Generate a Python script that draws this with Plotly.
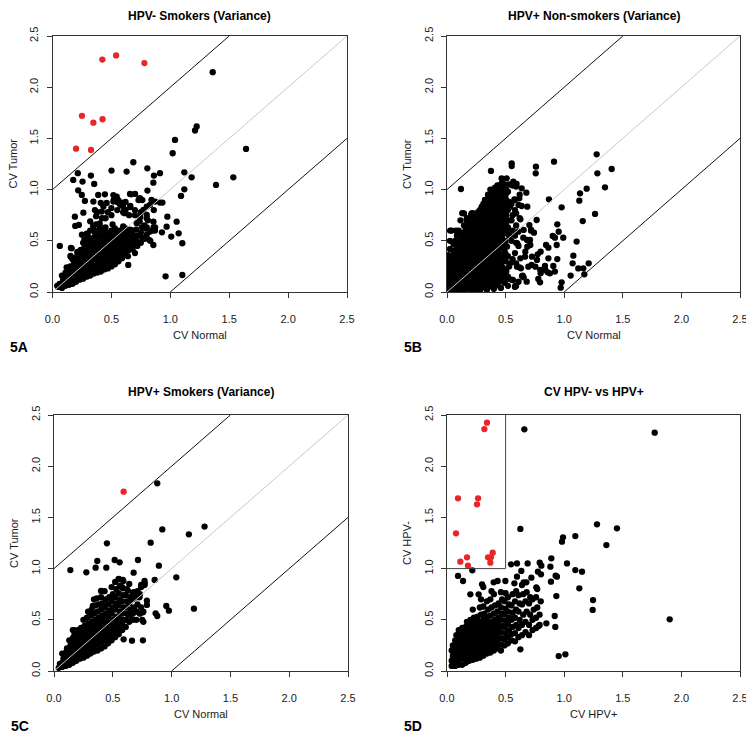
import plotly.graph_objects as go

# ---------------- data ----------------
panel_titles = ["HPV- Smokers (Variance)", "HPV+ Non-smokers (Variance)",
                "HPV+ Smokers (Variance)", "CV HPV- vs HPV+"]
x_titles = ["CV Normal", "CV Normal", "CV Normal", "CV HPV+"]
y_titles = ["CV Tumor", "CV Tumor", "CV Tumor", "CV HPV-"]
panel_tags = ["5A", "5B", "5C", "5D"]
tick_vals = [0.0, 0.5, 1.0, 1.5, 2.0, 2.5]
tick_text = ["0.0", "0.5", "1.0", "1.5", "2.0", "2.5"]

a_black = [
    (0.05,0.05),(0.06,0.08),(0.04,0.06),
    (0.08,0.04),(0.08,0.08),(0.09,0.12),(0.08,0.16),
    (0.11,0.06),(0.11,0.1),(0.12,0.14),(0.11,0.19),(0.12,0.24),
    (0.14,0.07),(0.14,0.11),(0.15,0.15),(0.14,0.2),(0.15,0.25),
    (0.17,0.08),(0.17,0.12),(0.18,0.17),(0.17,0.22),(0.18,0.27),(0.17,0.32),
    (0.2,0.1),(0.2,0.14),(0.21,0.19),(0.2,0.24),(0.21,0.29),(0.2,0.34),(0.21,0.39),
    (0.23,0.12),(0.23,0.16),(0.24,0.21),(0.23,0.26),(0.24,0.31),(0.23,0.36),(0.24,0.41),
    (0.26,0.13),(0.26,0.18),(0.27,0.23),(0.26,0.28),(0.27,0.33),(0.26,0.38),(0.27,0.43),(0.26,0.48),
    (0.29,0.15),(0.29,0.2),(0.3,0.25),(0.29,0.3),(0.3,0.35),(0.29,0.4),(0.3,0.45),(0.29,0.5),
    (0.32,0.16),(0.32,0.21),(0.33,0.26),(0.32,0.31),(0.33,0.36),(0.32,0.41),(0.33,0.46),(0.32,0.51),
    (0.35,0.18),(0.35,0.23),(0.36,0.28),(0.35,0.33),(0.36,0.38),(0.35,0.43),(0.36,0.48),(0.35,0.53),(0.36,0.58),
    (0.38,0.19),(0.38,0.24),(0.39,0.29),(0.38,0.34),(0.39,0.39),(0.38,0.44),(0.39,0.49),(0.38,0.54),(0.39,0.6),
    (0.41,0.2),(0.41,0.25),(0.42,0.3),(0.41,0.35),(0.42,0.4),(0.41,0.45),(0.42,0.5),(0.41,0.55),(0.42,0.61),
    (0.44,0.22),(0.44,0.27),(0.45,0.32),(0.44,0.37),(0.45,0.42),(0.44,0.47),(0.45,0.52),(0.44,0.57),(0.45,0.63),
    (0.47,0.23),(0.47,0.28),(0.48,0.33),(0.47,0.38),(0.48,0.43),(0.47,0.48),(0.48,0.53),(0.47,0.58),
    (0.5,0.25),(0.5,0.3),(0.51,0.35),(0.5,0.4),(0.51,0.45),(0.5,0.5),(0.51,0.55),(0.5,0.6),(0.51,0.66),
    (0.53,0.27),(0.53,0.32),(0.54,0.37),(0.53,0.42),(0.54,0.47),(0.53,0.52),(0.54,0.57),(0.53,0.62),
    (0.56,0.3),(0.56,0.35),(0.57,0.4),(0.56,0.45),(0.57,0.5),(0.56,0.55),(0.57,0.6),
    (0.59,0.33),(0.59,0.38),(0.6,0.43),(0.59,0.48),(0.6,0.53),(0.59,0.58),(0.6,0.64),
    (0.62,0.37),(0.62,0.42),(0.63,0.47),(0.62,0.52),(0.63,0.57),(0.62,0.62),
    (0.65,0.41),(0.65,0.46),(0.66,0.51),(0.65,0.56),(0.66,0.61),
    (0.68,0.45),(0.68,0.5),(0.69,0.55),(0.68,0.6),(0.71,0.5),(0.72,0.55),
    (0.4,0.65),(0.45,0.72),(0.5,0.75),(0.55,0.8),(0.6,0.78),(0.65,0.75),(0.7,0.8),(0.75,0.78),
    (0.8,0.72),(0.78,0.65),(0.72,0.68),(0.75,0.58),(0.8,0.56),(0.85,0.6),(0.83,0.5),(0.78,0.52),
    (0.62,0.8),(0.58,0.85),(0.5,0.82),(0.47,0.78),(0.42,0.72),(0.37,0.66),(0.32,0.6),(0.3,0.55),
    (0.38,0.78),(0.52,0.9),(0.62,0.88),(0.66,0.84),(0.46,0.87),(0.36,0.8),(0.84,0.9),(0.86,0.8),
    (0.81,0.7),(0.79,0.62),(0.76,0.53),(0.82,0.51),(0.87,0.6),(0.7,0.75),(0.74,0.69),(0.71,0.61),
    (0.67,0.57),(0.66,0.83),(0.61,0.77),(0.55,0.88),(0.41,0.87),(0.37,0.74),(0.4,0.67),(0.36,0.6),
    (0.29,0.57),(0.27,0.51),(0.32,0.69),(0.25,0.56),(0.193,0.645),(0.224,0.655),(0.345,0.645),
    (0.418,0.785),(0.432,0.834),(0.517,0.883),(0.545,0.906),(0.588,0.873),(0.658,0.958),
    (0.701,0.958),(0.744,0.915),(0.828,0.85),(0.871,0.883),(0.772,0.801),(0.8,0.752),(0.744,0.73),
    (0.715,0.671),(0.758,0.632),(0.8,0.632),(0.871,0.632),(0.857,0.687),(0.828,0.59),(0.262,0.775),
    (0.19,0.736),(0.155,0.345),(0.163,0.427),(0.22,0.394),(0.64,0.35),(0.68,0.42),(0.72,0.45),
    (0.75,0.48),(0.7,0.38),
    (1.36,2.147),(1.21,1.577),(1.224,1.616),(1.04,1.485),(1.02,1.355),(1.643,1.397),(1.535,1.12),
    (1.388,1.046),(1.181,1.12),(1.119,1.169),(1.119,1.003),(1.091,0.938),(0.912,0.873),(0.912,1.16),
    (0.861,1.137),(0.856,1.068),(0.805,1.208),(0.686,1.267),(0.629,1.176),(0.501,1.186),(0.326,1.137),
    (0.215,1.16),(0.176,1.094),(0.255,1.078),(0.354,1.055),(0.218,0.993),(0.275,0.889),(0.249,0.948),
    (0.388,0.948),(0.445,0.954),(0.806,0.99),(0.933,0.873),(0.062,0.45),(0.156,0.43),(0.153,0.352),
    (0.975,0.736),(0.969,0.638),(1.054,0.687),(1.071,0.573),(1.008,0.541),(1.102,0.476),(0.929,0.583),
    (0.858,0.632),(0.856,0.459),(0.643,0.264),(0.96,0.153),(1.102,0.166),(0.8,0.833),(0.73,0.898),
    (0.667,0.954),(0.738,0.915),(0.763,0.898),(0.545,0.931),(0.517,0.947),(0.6,0.833),(0.572,0.856),
    (0.558,0.898),(0.347,0.883),
]
a_red = [(0.2,1.40),(0.327,1.387),(0.25,1.72),(0.347,1.654),(0.425,1.687),
         (0.423,2.27),(0.54,2.31),(0.78,2.236)]

b_black = [
    (0.01,0.02),(0.01,0.07),(0.02,0.12),(0.01,0.17),(0.02,0.22),(0.01,0.27),(0.02,0.32),(0.01,0.36),
    (0.04,0.0),(0.04,0.05),(0.05,0.1),(0.04,0.15),(0.05,0.2),(0.04,0.25),(0.05,0.3),(0.04,0.35),(0.04,0.6),
    (0.07,0.03),(0.07,0.08),(0.08,0.13),(0.07,0.18),(0.08,0.23),(0.07,0.28),(0.08,0.33),(0.07,0.38),(0.08,0.43),(0.07,0.5),
    (0.1,0.01),(0.1,0.06),(0.11,0.11),(0.1,0.16),(0.11,0.21),(0.1,0.26),(0.11,0.31),(0.1,0.36),(0.11,0.41),(0.1,0.47),(0.1,0.6),
    (0.13,0.04),(0.13,0.09),(0.14,0.14),(0.13,0.19),(0.14,0.24),(0.13,0.3),(0.14,0.35),(0.13,0.4),(0.14,0.45),(0.13,0.52),(0.14,0.58),(0.13,0.77),
    (0.16,0.02),(0.16,0.07),(0.17,0.12),(0.16,0.17),(0.17,0.22),(0.16,0.27),(0.17,0.33),(0.16,0.38),(0.17,0.43),(0.16,0.48),(0.17,0.55),(0.16,0.62),(0.17,0.72),
    (0.19,0.05),(0.19,0.1),(0.2,0.15),(0.19,0.2),(0.2,0.25),(0.19,0.3),(0.2,0.36),(0.19,0.41),(0.2,0.46),(0.19,0.5),(0.2,0.58),(0.19,0.65),(0.2,0.7),
    (0.22,0.02),(0.22,0.08),(0.23,0.13),(0.22,0.18),(0.23,0.28),(0.22,0.33),(0.23,0.39),(0.22,0.45),(0.23,0.52),(0.22,0.6),(0.23,0.67),(0.22,0.77),
    (0.25,0.04),(0.25,0.1),(0.26,0.16),(0.25,0.22),(0.26,0.3),(0.25,0.36),(0.26,0.42),(0.25,0.48),(0.26,0.55),(0.25,0.62),(0.26,0.7),(0.25,0.74),
    (0.28,0.01),(0.28,0.07),(0.29,0.14),(0.28,0.2),(0.29,0.26),(0.28,0.33),(0.29,0.4),(0.28,0.46),(0.29,0.52),(0.28,0.58),(0.29,0.64),(0.28,0.7),(0.29,0.76),(0.28,0.8),
    (0.31,0.05),(0.31,0.12),(0.32,0.18),(0.31,0.25),(0.32,0.31),(0.31,0.38),(0.32,0.44),(0.31,0.5),(0.32,0.56),(0.31,0.62),(0.32,0.68),(0.31,0.74),(0.32,0.8),(0.31,0.86),
    (0.34,0.02),(0.34,0.09),(0.35,0.16),(0.34,0.23),(0.35,0.3),(0.34,0.36),(0.35,0.42),(0.34,0.5),(0.35,0.57),(0.34,0.63),(0.35,0.7),(0.34,0.76),(0.35,0.82),(0.34,0.9),(0.35,0.95),
    (0.37,0.06),(0.37,0.13),(0.38,0.2),(0.37,0.27),(0.38,0.35),(0.37,0.45),(0.38,0.55),(0.37,0.61),(0.38,0.67),(0.37,0.73),(0.38,0.79),(0.37,0.85),(0.38,0.92),(0.37,1.0),
    (0.4,0.03),(0.4,0.1),(0.41,0.18),(0.4,0.26),(0.41,0.33),(0.4,0.42),(0.41,0.52),(0.4,0.6),(0.41,0.66),(0.4,0.72),(0.41,0.78),(0.4,0.84),(0.41,0.9),(0.4,0.96),(0.41,1.02),
    (0.43,0.07),(0.43,0.15),(0.44,0.24),(0.43,0.31),(0.44,0.4),(0.43,0.48),(0.44,0.56),(0.43,0.64),(0.44,0.7),(0.43,0.76),(0.44,0.83),(0.43,0.88),(0.44,0.94),(0.43,1.04),
    (0.46,0.04),(0.46,0.12),(0.47,0.2),(0.46,0.28),(0.47,0.36),(0.46,0.44),(0.47,0.52),(0.46,0.6),(0.47,0.68),(0.46,0.74),(0.47,0.8),(0.46,0.86),(0.47,0.92),(0.46,1.0),(0.47,1.07),
    (0.49,0.09),(0.49,0.18),(0.5,0.3),(0.49,0.4),(0.5,0.5),(0.49,0.58),(0.5,0.66),(0.49,0.72),(0.5,0.78),(0.49,0.85),(0.5,0.95),(0.49,1.05),
    (0.52,0.06),(0.52,0.15),(0.53,0.25),(0.52,0.35),(0.53,0.55),(0.52,0.63),(0.53,0.7),(0.52,0.8),(0.53,0.88),(0.52,0.98),(0.53,1.05),
    (0.55,0.12),(0.56,0.32),(0.55,0.5),(0.56,0.6),(0.55,0.7),(0.56,0.75),(0.55,0.86),(0.56,1.04),
    (0.58,0.05),(0.59,0.28),(0.58,0.38),(0.59,0.48),(0.58,0.55),(0.59,0.65),(0.58,0.9),(0.59,1.03),
    (0.61,0.1),(0.62,0.24),(0.61,0.45),(0.62,0.72),(0.61,0.85),(0.62,0.95),
    (1.277,1.344),(1.283,1.159),(1.405,1.201),(1.348,1.022),(1.192,1.009),(1.135,0.964),(1.129,0.892),
    (1.263,0.762),(1.158,0.693),(1.106,0.492),(1.078,0.355),(1.072,0.28),(1.163,0.231),(1.209,0.28),
    (1.172,0.173),(1.055,0.16),(0.978,0.094),(0.97,0.042),(1.12,0.23),(0.913,1.273),(0.978,0.827),
    (0.87,0.905),(0.941,0.661),(0.953,0.589),(0.921,0.531),(0.992,0.531),(0.936,0.459),(0.902,0.547),
    (0.865,0.433),(0.845,0.459),(0.799,0.394),(0.774,0.368),(0.865,0.329),(0.941,0.322),(0.907,0.254),
    (0.921,0.199),(0.859,0.192),(0.836,0.254),(0.799,0.182),(0.779,0.127),(0.794,0.094),(0.879,0.182),
    (0.765,0.703),(0.708,0.508),(0.685,0.443),(0.651,0.531),(0.609,0.589),(0.6,0.475),(0.666,0.345),
    (0.722,0.264),(0.694,0.247),(0.631,0.231),(0.589,0.059),(0.68,0.101),(0.646,0.16),(0.742,0.579),
    (0.717,0.599),(0.703,0.654),(0.757,1.159),(0.759,1.224),(0.552,1.257),(0.552,1.23),(0.375,1.182),
    (0.119,1.006),(0.466,1.11),(0.509,1.11),(0.566,1.077),(0.594,1.055),(0.637,1.012),(0.677,0.97),
    (0.617,0.915),(0.637,0.84),(0.685,0.833),(0.58,0.8),(0.538,0.833),(0.495,0.931),(0.446,0.97),
    (0.395,1.003),(0.361,0.938),(0.41,0.898),(0.452,1.045),(0.324,0.898),(0.31,0.817),(0.253,0.736),
    (0.21,0.768),(0.145,0.768),(0.168,0.703),(0.026,0.599),(0.077,0.599),(0.111,0.547),
    (0.575,0.905),(0.59,0.768),(0.626,0.71),(0.654,0.606),(0.717,0.606),(0.683,0.508),(0.711,0.459),
    (0.668,0.394),(0.725,0.345),(0.768,0.313),(0.626,0.329),(0.597,0.247),(0.64,0.156),(0.563,0.117),
    (0.583,0.059),(0.654,0.143),(0.506,0.199),(0.54,0.28),(0.498,0.378),(0.512,0.443),(0.526,0.573),
    (0.484,0.638),(0.754,0.247),(0.796,0.215),(0.839,0.215),
    (0.025,0.045),(0.025,0.095),(0.025,0.145),(0.025,0.195),(0.025,0.245),(0.025,0.295),(0.025,0.42),(0.025,0.5),
    (0.055,0.02),(0.055,0.075),(0.055,0.125),(0.055,0.175),(0.055,0.225),(0.055,0.275),(0.055,0.325),(0.055,0.4),(0.055,0.47),
    (0.085,0.05),(0.085,0.105),(0.085,0.155),(0.085,0.205),(0.085,0.255),(0.085,0.305),(0.085,0.355),(0.085,0.405),(0.085,0.55),
    (0.115,0.035),(0.115,0.085),(0.115,0.135),(0.115,0.185),(0.115,0.235),(0.115,0.285),(0.115,0.335),(0.115,0.385),(0.115,0.44),(0.115,0.5),(0.115,0.7),
    (0.145,0.015),(0.145,0.065),(0.145,0.115),(0.145,0.165),(0.145,0.215),(0.145,0.27),(0.145,0.325),(0.145,0.375),(0.145,0.425),(0.145,0.49),(0.145,0.55),(0.145,0.65),
    (0.175,0.045),(0.175,0.095),(0.175,0.145),(0.175,0.195),(0.175,0.25),(0.175,0.3),(0.175,0.355),(0.175,0.405),(0.175,0.46),(0.175,0.515),(0.175,0.6),(0.175,0.68),
    (0.205,0.025),(0.205,0.08),(0.205,0.13),(0.205,0.23),(0.205,0.28),(0.205,0.33),(0.205,0.385),(0.205,0.435),(0.205,0.49),(0.205,0.54),(0.205,0.62),(0.205,0.75),
    (0.235,0.05),(0.235,0.105),(0.235,0.155),(0.235,0.205),(0.235,0.255),(0.235,0.31),(0.235,0.36),(0.235,0.42),(0.235,0.48),(0.235,0.57),(0.235,0.64),(0.235,0.72),
    (0.265,0.02),(0.265,0.075),(0.265,0.13),(0.265,0.19),(0.265,0.26),(0.265,0.33),(0.265,0.39),(0.265,0.45),(0.265,0.51),(0.265,0.58),(0.265,0.66),(0.265,0.78),
    (0.295,0.04),(0.295,0.1),(0.295,0.17),(0.295,0.23),(0.295,0.29),(0.295,0.36),(0.295,0.43),(0.295,0.49),(0.295,0.55),(0.295,0.61),(0.295,0.67),(0.295,0.73),(0.295,0.83),
    (0.325,0.08),(0.325,0.15),(0.325,0.21),(0.325,0.28),(0.325,0.35),(0.325,0.41),(0.325,0.47),(0.325,0.53),(0.325,0.59),(0.325,0.65),(0.325,0.71),(0.325,0.77),(0.325,0.84),(0.325,0.9),
    (0.355,0.05),(0.355,0.12),(0.355,0.19),(0.355,0.26),(0.355,0.33),(0.355,0.39),(0.355,0.46),(0.355,0.53),(0.355,0.6),(0.355,0.66),(0.355,0.73),(0.355,0.79),(0.355,0.86),(0.355,0.93),
    (0.385,0.1),(0.385,0.16),(0.385,0.24),(0.385,0.31),(0.385,0.4),(0.385,0.5),(0.385,0.58),(0.385,0.64),(0.385,0.7),(0.385,0.76),(0.385,0.82),(0.385,0.88),(0.385,0.96),
    (0.415,0.06),(0.415,0.14),(0.415,0.22),(0.415,0.3),(0.415,0.37),(0.415,0.47),(0.415,0.56),(0.415,0.63),(0.415,0.69),(0.415,0.75),(0.415,0.81),(0.415,0.87),(0.415,0.93),(0.415,0.99),
    (0.445,0.1),(0.445,0.19),(0.445,0.28),(0.445,0.36),(0.445,0.44),(0.445,0.52),(0.445,0.6),(0.445,0.67),(0.445,0.73),(0.445,0.79),(0.445,0.85),(0.445,0.91),(0.445,0.97),
    (0.475,0.16),(0.475,0.24),(0.475,0.32),(0.475,0.48),(0.475,0.56),(0.475,0.64),(0.475,0.71),(0.475,0.77),(0.475,0.83),(0.475,0.89),(0.475,0.97),(0.475,1.03),
    (0.505,0.12),(0.505,0.22),(0.505,0.45),(0.505,0.6),(0.505,0.69),(0.505,0.75),(0.505,0.82),(0.505,0.9),(0.505,1.0),
]

c_black = [
    (0.04,0.03),(0.05,0.07),
    (0.07,0.04),(0.07,0.08),(0.08,0.12),(0.07,0.17),
    (0.1,0.05),(0.1,0.09),(0.11,0.13),(0.1,0.18),(0.11,0.22),
    (0.13,0.06),(0.13,0.1),(0.14,0.15),(0.13,0.2),(0.14,0.25),(0.13,0.3),
    (0.16,0.08),(0.16,0.12),(0.17,0.17),(0.16,0.22),(0.17,0.27),(0.16,0.32),(0.16,0.4),
    (0.19,0.1),(0.19,0.14),(0.2,0.19),(0.19,0.24),(0.2,0.29),(0.19,0.34),(0.2,0.4),
    (0.22,0.12),(0.22,0.16),(0.23,0.21),(0.22,0.26),(0.23,0.31),(0.22,0.36),(0.23,0.42),
    (0.25,0.13),(0.25,0.18),(0.26,0.23),(0.25,0.28),(0.26,0.33),(0.25,0.38),(0.26,0.44),(0.25,0.5),
    (0.28,0.15),(0.28,0.2),(0.29,0.25),(0.28,0.3),(0.29,0.35),(0.28,0.4),(0.29,0.46),(0.28,0.52),(0.29,0.58),
    (0.31,0.17),(0.31,0.22),(0.32,0.27),(0.31,0.32),(0.32,0.37),(0.31,0.42),(0.32,0.48),(0.31,0.54),(0.32,0.6),
    (0.34,0.19),(0.34,0.24),(0.35,0.29),(0.34,0.34),(0.35,0.39),(0.34,0.44),(0.35,0.5),(0.34,0.56),(0.35,0.64),(0.34,0.7),
    (0.37,0.2),(0.37,0.26),(0.38,0.31),(0.37,0.36),(0.38,0.41),(0.37,0.46),(0.38,0.52),(0.37,0.58),(0.38,0.65),
    (0.4,0.22),(0.4,0.28),(0.41,0.33),(0.4,0.38),(0.41,0.43),(0.4,0.48),(0.41,0.54),(0.4,0.6),(0.41,0.66),(0.4,0.72),
    (0.43,0.24),(0.43,0.3),(0.44,0.35),(0.43,0.4),(0.44,0.45),(0.43,0.5),(0.44,0.56),(0.43,0.62),(0.44,0.7),(0.43,0.78),
    (0.46,0.27),(0.46,0.32),(0.47,0.37),(0.46,0.42),(0.47,0.47),(0.46,0.53),(0.47,0.59),(0.46,0.65),(0.47,0.72),
    (0.49,0.3),(0.49,0.35),(0.5,0.4),(0.49,0.45),(0.5,0.5),(0.49,0.56),(0.5,0.62),(0.49,0.68),(0.5,0.75),(0.49,0.82),
    (0.52,0.33),(0.52,0.38),(0.53,0.43),(0.52,0.48),(0.53,0.53),(0.52,0.6),(0.53,0.66),(0.52,0.72),(0.53,0.8),(0.52,0.87),
    (0.55,0.36),(0.55,0.42),(0.56,0.47),(0.55,0.52),(0.56,0.58),(0.55,0.64),(0.56,0.7),(0.55,0.76),(0.56,0.83),(0.55,0.9),
    (0.58,0.4),(0.58,0.45),(0.59,0.5),(0.58,0.56),(0.59,0.62),(0.58,0.68),(0.59,0.74),(0.58,0.82),(0.59,0.88),
    (0.61,0.43),(0.61,0.5),(0.62,0.56),(0.61,0.62),(0.62,0.68),(0.61,0.74),(0.62,0.8),
    (0.64,0.48),(0.64,0.54),(0.65,0.6),(0.64,0.66),(0.65,0.72),(0.64,0.85),
    (0.67,0.5),(0.67,0.56),(0.68,0.62),(0.67,0.7),(0.68,0.77),
    (0.7,0.5),(0.7,0.58),(0.71,0.65),(0.7,0.72),(0.71,0.78),
    (0.73,0.56),(0.73,0.75),(0.74,0.82),(0.76,0.48),(0.76,0.58),(0.77,0.84),
    (0.878,1.833),(0.921,1.383),(1.147,1.335),(1.28,1.41),(0.822,1.253),(0.45,1.247),(0.139,0.986),
    (0.275,0.964),(0.354,1.009),(0.368,1.074),(0.445,1.009),(0.516,1.084),(0.558,1.061),(0.714,1.084),
    (0.892,1.029),(0.677,0.96),(0.856,0.889),(1.04,0.915),(0.771,0.856),(0.742,0.824),(0.79,0.687),
    (0.955,0.635),(0.977,0.589),(1.19,0.609),(0.864,0.563),(0.878,0.537),(0.756,0.573),(0.756,0.3),
    (0.663,0.296),(0.592,0.309),(0.741,0.84),(0.77,0.879),(0.4,0.782),(0.364,0.71),(0.33,0.635),
    (0.168,0.4),(0.173,0.352),(0.642,0.547),(0.7,0.58),(0.741,0.622),(0.79,0.645),(0.727,0.72),
    (0.67,0.765),(0.628,0.785),(0.585,0.807),(0.656,0.7),(0.585,0.889),(0.551,0.896),(0.75,0.498),
]
c_red = [(0.592,1.751)]

d_black = [
    (0.04,0.05),(0.04,0.1),(0.05,0.15),(0.04,0.2),(0.05,0.25),
    (0.07,0.05),(0.07,0.1),(0.08,0.15),(0.07,0.2),(0.08,0.25),(0.07,0.3),(0.08,0.35),
    (0.1,0.06),(0.1,0.11),(0.11,0.16),(0.1,0.21),(0.11,0.26),(0.1,0.31),(0.11,0.36),(0.1,0.4),
    (0.13,0.06),(0.13,0.12),(0.14,0.17),(0.13,0.22),(0.14,0.27),(0.13,0.32),(0.14,0.37),(0.13,0.42),
    (0.16,0.08),(0.16,0.13),(0.17,0.18),(0.16,0.23),(0.17,0.28),(0.16,0.33),(0.17,0.38),(0.16,0.43),(0.17,0.48),
    (0.19,0.1),(0.19,0.15),(0.2,0.2),(0.19,0.25),(0.2,0.3),(0.19,0.35),(0.2,0.4),(0.19,0.45),(0.2,0.5),
    (0.22,0.11),(0.22,0.16),(0.23,0.21),(0.22,0.26),(0.23,0.31),(0.22,0.36),(0.23,0.41),(0.22,0.46),(0.23,0.52),(0.22,0.6),
    (0.25,0.12),(0.25,0.17),(0.26,0.22),(0.25,0.27),(0.26,0.32),(0.25,0.37),(0.26,0.42),(0.25,0.47),(0.26,0.53),
    (0.28,0.13),(0.28,0.18),(0.29,0.23),(0.28,0.28),(0.29,0.33),(0.28,0.38),(0.29,0.43),(0.28,0.48),(0.29,0.55),(0.28,0.62),(0.29,0.7),
    (0.31,0.15),(0.31,0.2),(0.32,0.25),(0.31,0.3),(0.32,0.35),(0.31,0.4),(0.32,0.45),(0.31,0.5),(0.32,0.56),(0.31,0.63),(0.31,0.82),
    (0.34,0.17),(0.34,0.22),(0.35,0.27),(0.34,0.32),(0.35,0.37),(0.34,0.42),(0.35,0.47),(0.34,0.52),(0.35,0.6),(0.34,0.68),
    (0.37,0.18),(0.37,0.23),(0.38,0.28),(0.37,0.33),(0.38,0.38),(0.37,0.43),(0.38,0.48),(0.37,0.54),(0.38,0.62),(0.37,0.7),(0.38,0.78),
    (0.4,0.2),(0.4,0.25),(0.41,0.3),(0.4,0.35),(0.41,0.4),(0.4,0.45),(0.41,0.5),(0.4,0.56),(0.41,0.64),(0.4,0.75),
    (0.43,0.22),(0.43,0.27),(0.44,0.32),(0.43,0.37),(0.44,0.42),(0.43,0.47),(0.44,0.52),(0.43,0.58),(0.44,0.66),
    (0.46,0.2),(0.46,0.26),(0.47,0.32),(0.46,0.38),(0.47,0.44),(0.46,0.5),(0.47,0.56),(0.46,0.62),(0.47,0.7),(0.46,0.77),
    (0.49,0.25),(0.49,0.31),(0.5,0.37),(0.49,0.43),(0.5,0.49),(0.49,0.55),(0.5,0.61),(0.49,0.68),(0.5,0.76),
    (0.52,0.27),(0.52,0.33),(0.53,0.4),(0.52,0.46),(0.53,0.52),(0.52,0.58),(0.53,0.65),(0.52,0.72),
    (0.55,0.3),(0.55,0.36),(0.56,0.43),(0.55,0.5),(0.56,0.57),(0.55,0.64),(0.56,0.75),
    (0.58,0.29),(0.58,0.37),(0.59,0.45),(0.58,0.52),(0.59,0.6),(0.58,0.68),(0.59,0.78),
    (0.61,0.33),(0.61,0.42),(0.62,0.5),(0.61,0.58),(0.62,0.66),(0.61,0.74),
    (0.64,0.35),(0.64,0.45),(0.65,0.55),(0.64,0.65),(0.65,0.75),(0.64,0.84),
    (0.67,0.38),(0.67,0.48),(0.68,0.58),(0.67,0.68),(0.68,0.77),
    (0.7,0.35),(0.7,0.45),(0.71,0.55),(0.7,0.66),(0.71,0.72),
    (0.73,0.4),(0.73,0.5),(0.74,0.6),(0.73,0.7),
    (0.76,0.42),(0.76,0.52),(0.77,0.62),(0.76,0.72),(0.77,0.8),
    (0.79,0.45),(0.79,0.55),(0.8,0.68),
    (0.66,2.36),(1.772,2.327),(1.9,0.505),(0.626,1.387),(1.28,1.432),(1.45,1.393),(1.36,1.23),
    (1.095,1.318),(0.99,1.305),(0.981,1.263),(0.89,1.1),(0.882,1.019),(0.927,0.931),(0.938,0.921),
    (1.024,1.051),(1.095,0.986),(1.152,0.97),(1.129,0.807),(1.246,0.693),(1.243,0.596),(0.933,0.732),
    (0.887,0.872),(0.919,0.537),(0.924,0.43),(0.953,0.146),(1.01,0.163),(0.782,0.439),(0.848,0.466),
    (0.626,0.212),(0.216,0.983),(0.094,0.928),(0.137,0.879),(0.199,0.749),(0.27,0.749),(0.299,0.846),
    (0.398,0.866),(0.432,0.879),(0.498,0.879),(0.546,1.042),(0.597,1.051),(0.634,0.977),(0.688,1.051),
    (0.72,0.911),(0.677,0.866),(0.762,0.817),(0.791,1.058),(0.805,1.029),(0.776,0.97),(0.802,0.944),
    (0.597,0.921),(0.654,0.866),(0.575,0.856),
]
d_red = [(0.094,1.686),(0.265,1.686),(0.256,1.628),(0.077,1.344),(0.114,1.068),(0.171,1.11),
         (0.179,1.029),(0.35,1.11),(0.39,1.156),(0.375,1.11),(0.37,1.058),(0.319,2.363),(0.341,2.425)]

# ---------------- layout geometry ----------------
# The page body has an 8px default margin, so the figure is 746x730 and every
# target page-pixel position is shifted by OFF.
PAGE_W, PAGE_H = 754, 738
OFF = 8
W, H = PAGE_W - OFF, PAGE_H - OFF
boxes = [  # (left, right, top, bottom) page-pixel edges of each plot area
    (52.5, 347, 36, 292),
    (447, 740, 36, 292),
    (54, 348, 415, 671),
    (447, 740, 415, 671),
]
def fx(px):
    return (px - OFF) / W
def fy(py):
    return 1 - (py - OFF) / H

FONT = "Liberation Sans, Arial, Helvetica, sans-serif"
BLACK = "#000000"
RED = "#e8262a"
AXC = "#333333"
MSIZE = 6.3

fig = go.Figure()
panels = [(a_black, a_red), (b_black, []), (c_black, c_red), (d_black, d_red)]
for i, (blk, red) in enumerate(panels):
    sfx = "" if i == 0 else str(i + 1)
    xa, ya = "x" + sfx, "y" + sfx
    fig.add_trace(go.Scatter(x=[p[0] for p in blk], y=[p[1] for p in blk], mode="markers",
                             marker=dict(color=BLACK, size=MSIZE, line=dict(width=0)),
                             xaxis=xa, yaxis=ya, showlegend=False, hoverinfo="skip"))
    if red:
        fig.add_trace(go.Scatter(x=[p[0] for p in red], y=[p[1] for p in red], mode="markers",
                                 marker=dict(color=RED, size=MSIZE, line=dict(width=0)),
                                 xaxis=xa, yaxis=ya, showlegend=False, hoverinfo="skip"))

shapes = []
annotations = []
for i, (l, r, t, b) in enumerate(boxes):
    sfx = "" if i == 0 else str(i + 1)
    common = dict(range=[0, 2.5], tickvals=tick_vals, ticktext=tick_text, ticks="outside",
                  ticklen=5, tickcolor=AXC, tickwidth=1, showline=True, linecolor=AXC,
                  linewidth=1, mirror=True, showgrid=False, zeroline=False, automargin=False,
                  tickfont=dict(family=FONT, size=11, color="#1a1a1a"), fixedrange=True)
    fig.update_layout({
        "xaxis" + sfx: dict(common, domain=[fx(l), fx(r)], anchor="y" + sfx, ticklabelstandoff=12),
        "yaxis" + sfx: dict(common, domain=[fy(b), fy(t)], anchor="x" + sfx,
                            tickangle=-90, ticklabelstandoff=4),
    })
    xr, yr = "x" + sfx, "y" + sfx
    if i < 3:
        shapes.append(dict(type="line", xref=xr, yref=yr, x0=0, y0=1, x1=1.5, y1=2.5,
                           line=dict(color="#111111", width=1)))
        shapes.append(dict(type="line", xref=xr, yref=yr, x0=1, y0=0, x1=2.5, y1=1.5,
                           line=dict(color="#111111", width=1)))
        shapes.append(dict(type="line", xref=xr, yref=yr, x0=0, y0=0, x1=2.5, y1=2.5,
                           line=dict(color="#c8c8c8", width=1)))
    else:
        shapes.append(dict(type="line", xref=xr, yref=yr, x0=0, y0=1, x1=0.5, y1=1,
                           line=dict(color="#444444", width=1)))
        shapes.append(dict(type="line", xref=xr, yref=yr, x0=0.5, y0=1, x1=0.5, y1=2.5,
                           line=dict(color="#444444", width=1)))
    cx = (l + r) / 2
    cy = (t + b) / 2
    if t - 23 - OFF < 9:
        # title would touch the top edge of the figure: anchor it at the top
        ttl = dict(y=1.0, yanchor="top", borderpad=0)
    else:
        ttl = dict(y=fy(t - 23), yanchor="middle")
    annotations.append(dict(text="<b>%s</b>" % panel_titles[i], x=fx(cx),
                            xref="paper", yref="paper", showarrow=False,
                            font=dict(family=FONT, size=12, color="#000"),
                            xanchor="center", **ttl))
    annotations.append(dict(text=x_titles[i], x=fx(cx), y=fy(b + 43),
                            xref="paper", yref="paper", showarrow=False,
                            font=dict(family=FONT, size=11, color="#1a1a1a"),
                            xanchor="center", yanchor="middle"))
    annotations.append(dict(text=y_titles[i], x=fx(l - 40), y=fy(cy),
                            xref="paper", yref="paper", showarrow=False, textangle=-90,
                            font=dict(family=FONT, size=11, color="#1a1a1a"),
                            xanchor="center", yanchor="middle"))
tag_pos = [(19, 347), (413, 347), (20, 726), (413, 726)]
for (tx, ty), tag in zip(tag_pos, panel_tags):
    annotations.append(dict(text="<b>%s</b>" % tag, x=fx(tx), y=fy(ty), xref="paper",
                            yref="paper", showarrow=False,
                            font=dict(family=FONT, size=14, color="#000"),
                            xanchor="center", yanchor="middle"))

fig.update_layout(width=W, height=H, margin=dict(l=0, r=0, t=0, b=0, pad=0),
                  paper_bgcolor="white", plot_bgcolor="white",
                  shapes=shapes, annotations=annotations, showlegend=False)
fig.write_html("out.html")
